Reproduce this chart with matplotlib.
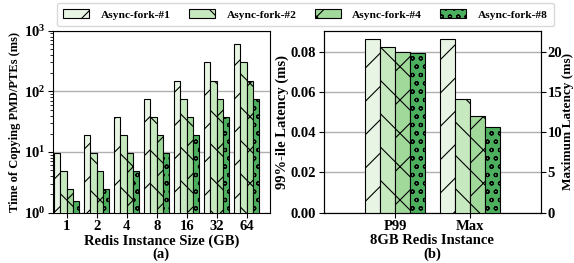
import matplotlib.pyplot as plt
import numpy as np

plt.rcParams['font.family'] = ['Liberation Serif', 'DejaVu Serif']
plt.rcParams['font.weight'] = 'bold'
plt.rcParams['axes.labelweight'] = 'bold'
plt.rcParams['mathtext.fontset'] = 'custom'
plt.rcParams['mathtext.rm'] = 'Liberation Serif:bold'
plt.rcParams['mathtext.it'] = 'Liberation Serif:bold'
plt.rcParams['mathtext.bf'] = 'Liberation Serif:bold'
plt.rcParams['hatch.linewidth'] = 0.8

# data
series = ['Async-fork-#1', 'Async-fork-#2', 'Async-fork-#4', 'Async-fork-#8']
sizes = ['1', '2', '4', '8', '16', '32', '64']
copy_time = [
    [9.6, 19, 38, 75, 150, 300, 600],
    [4.9, 9.6, 19, 38, 75, 150, 300],
    [2.5, 4.8, 9.6, 19, 38, 75, 150],
    [1.55, 2.5, 4.8, 9.6, 19, 38, 75],
]
lat_cats = ['P99', 'Max']
p99_lat = [0.0865, 0.0823, 0.0800, 0.0795]   # left axis (ms)
max_lat = [21.6, 14.1, 12.0, 10.6]          # right axis (ms)

colors = ['#e8f5e4', '#c7e9c0', '#a1d99b', '#4caf5e']
hatches = ['/', '\\', 'x', 'oo']
fs = 10.5

fig = plt.figure(figsize=(5.74, 2.63), dpi=100)
ax1 = fig.add_axes([52.7 / 574, 1 - 212.7 / 263, (270 - 52.7) / 574, (212.7 - 30.7) / 263])
ax2 = fig.add_axes([324 / 574, 1 - 212.7 / 263, (540.7 - 324) / 574, (212.7 - 30.7) / 263])

# (a) copy time, log scale
w = 0.21
x = np.arange(len(sizes))
handles = []
for i in range(4):
    b = ax1.bar(x + (i - 1.5) * w, copy_time[i], w, color=colors[i], hatch=hatches[i],
                edgecolor='black', linewidth=0.8, zorder=3)
    handles.append(b)
ax1.set_yscale('log')
ax1.set_ylim(1, 1000)
ax1.set_xlim(-0.47, 6.78)
ax1.set_xticks(x)
ax1.set_xticklabels(sizes, fontsize=fs)
ax1.tick_params(axis='x', pad=1.5)
ax1.tick_params(axis='y', labelsize=fs, pad=2)
ax1.grid(axis='y', which='major', color='#b0b0b0', linewidth=1, zorder=0)
ax1.set_xlabel('Redis Instance Size (GB)\n(a)', fontsize=fs, labelpad=1, linespacing=1.0)
ax1.set_ylabel('Time of Copying PMD/PTEs (ms)', fontsize=9, labelpad=2)

# (b) latency
xb = np.arange(len(lat_cats))
w2 = 0.2
ax3 = ax2.twinx()
for i in range(4):
    ax2.bar(xb[0] + (i - 1.5) * w2, p99_lat[i], w2, color=colors[i], hatch=hatches[i],
            edgecolor='black', linewidth=0.8, zorder=3)
    ax3.bar(xb[1] + (i - 1.5) * w2, max_lat[i], w2, color=colors[i], hatch=hatches[i],
            edgecolor='black', linewidth=0.8, zorder=3)
ax2.set_ylim(0, 0.0905)
ax3.set_ylim(0, 0.0905 * 250)
ax2.set_xlim(-0.947, 1.94)
ax2.set_xticks(xb)
ax2.set_xticklabels(lat_cats, fontsize=fs)
ax2.tick_params(axis='x', pad=1.5)
ax2.set_yticks([0, 0.02, 0.04, 0.06, 0.08])
ax2.set_yticklabels(['0.00', '0.02', '0.04', '0.06', '0.08'])
ax3.set_yticks([0, 5, 10, 15, 20])
ax2.tick_params(axis='y', labelsize=fs, pad=2)
ax3.tick_params(axis='y', labelsize=fs, pad=1.5)
ax2.grid(axis='y', color='#b0b0b0', linewidth=1, zorder=0)
ax2.set_axisbelow(True)
ax2.set_xlabel('8GB Redis Instance\n(b)', fontsize=fs, labelpad=1, linespacing=1.0)
ax2.set_ylabel('99%-ile Latency (ms)', fontsize=fs, labelpad=1)
ax3.set_ylabel('Maximum Latency (ms)', fontsize=9.5, labelpad=0)

fig.legend(handles, series, loc='center', bbox_to_anchor=(305.5 / 574, 1 - 14.5 / 263),
           ncol=4, fontsize=8.2, frameon=True, handlelength=2.3, handleheight=0.75,
           columnspacing=1.6, handletextpad=1.0, borderpad=0.55, edgecolor='#d0d0d0')

fig.savefig('out.png', dpi=100)
